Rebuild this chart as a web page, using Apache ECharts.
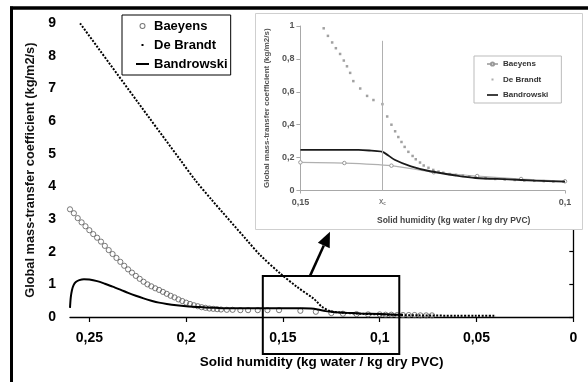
<!DOCTYPE html>
<html><head><meta charset="utf-8">
<script src="https://cdn.jsdelivr.net/npm/echarts@6/dist/echarts.min.js"></script>
<style>
html,body{margin:0;padding:0;background:#fff;}
#main{position:absolute;left:0;top:0;width:588px;height:382px;}
#inset{position:absolute;left:255px;top:13px;width:328px;height:217px;}
</style></head><body>
<div id="main"></div><div id="inset"></div>
<script>
const FONT = '"Liberation Sans", Arial, sans-serif';

// ---- main chart ----
const MAIN_X_TICKS = [0, 0.05, 0.1, 0.15, 0.2, 0.25];
const MAIN_X_MAX = 0.26;
const MAIN_Y_MAX = 9;
const SERIES_NAMES = ['Baeyens', 'De Brandt', 'Bandrowski'];

const BAEYENS = [
  [0.260,3.30],[0.258,3.18],[0.256,3.03],[0.254,2.90],[0.252,2.78],[0.250,2.66],[0.248,2.54],
  [0.246,2.43],[0.244,2.31],[0.242,2.18],[0.240,2.05],[0.238,1.93],[0.236,1.81],[0.234,1.69],
  [0.232,1.57],[0.230,1.46],[0.228,1.36],[0.226,1.26],[0.224,1.17],[0.222,1.08],[0.220,1.00],
  [0.218,0.94],[0.216,0.88],[0.214,0.83],[0.212,0.77],[0.210,0.71],[0.208,0.65],[0.206,0.60],
  [0.204,0.54],[0.202,0.49],[0.200,0.44],[0.198,0.40],[0.196,0.36],[0.194,0.33],[0.192,0.30],
  [0.190,0.28],[0.188,0.26],[0.186,0.25],[0.184,0.24],[0.182,0.23],[0.179,0.22],[0.176,0.22],
  [0.172,0.21],[0.168,0.21],[0.163,0.21],[0.158,0.21],[0.152,0.21],[0.141,0.19],[0.133,0.16],
  [0.125,0.12],[0.119,0.10],[0.112,0.09],[0.106,0.08],[0.100,0.08],[0.097,0.07],[0.094,0.07],
  [0.091,0.06],[0.088,0.06],[0.085,0.06],[0.082,0.06],[0.079,0.05],[0.076,0.05],[0.073,0.05]
];
const DE_BRANDT = [
  [0.2548,9.00],[0.2195,6.14],[0.2031,4.82],[0.1954,4.20],[0.1868,3.59],[0.1687,2.36],
  [0.1618,1.90],[0.1515,1.34],[0.1429,0.93],[0.1343,0.57],[0.1325,0.47],[0.1300,0.32],
  [0.1257,0.18],[0.1205,0.14],[0.1100,0.10],[0.1000,0.08],[0.0900,0.06],[0.0800,0.05],
  [0.0600,0.04],[0.0500,0.04],[0.0400,0.04]
];
const BANDROWSKI = [
  [0.2600,0.28],[0.2596,0.60],[0.2590,0.82],[0.2582,0.97],[0.2570,1.07],[0.2552,1.13],
  [0.2528,1.16],[0.2500,1.15],[0.2460,1.10],[0.2420,1.02],[0.2380,0.93],[0.2340,0.84],
  [0.2300,0.74],[0.2260,0.65],[0.2220,0.57],[0.2180,0.50],[0.2140,0.44],[0.2100,0.40],
  [0.2050,0.36],[0.2000,0.33],[0.1950,0.31],[0.1900,0.29],[0.1850,0.28],[0.1800,0.27],
  [0.1600,0.27],[0.1400,0.27],[0.1355,0.26],[0.1320,0.23],[0.1280,0.18],[0.1240,0.15],
  [0.1180,0.13],[0.1100,0.11],[0.1000,0.09],[0.0900,0.07],[0.0880,0.07]
];
// zoom box and arrow, in data units of the main chart
const ZOOM_BOX_X = [0.1604, 0.0899];
const ZOOM_BOX_Y = [1.26, -1.13];
const ARROW_FROM = [0.1360, 1.26];
const ARROW_TO = [0.1257, 2.61];

// ---- inset chart ----
const INSET_XC = 0.1345;
const INSET_XC_TOP = 0.91;
const INSET_X_LABELS = [0.15, INSET_XC, 0.1];
const INSET_X_TICKS = [0.15, 0.1];
const INSET_BAEYENS = [
  [0.1500,0.171],[0.1417,0.167],[0.1328,0.151],[0.1248,0.111],[0.1166,0.088],[0.1083,0.070],[0.1000,0.056]
];
const INSET_DE_BRANDT = [
  [0.1456,0.986],[0.1448,0.940],[0.1440,0.900],[0.1433,0.865],[0.1425,0.830],[0.1418,0.790],
  [0.1412,0.755],[0.1406,0.715],[0.1400,0.665],[0.1387,0.620],[0.1374,0.575],[0.1362,0.550],
  [0.1345,0.525],[0.1336,0.450],[0.1328,0.400],[0.1321,0.360],[0.1315,0.325],[0.1309,0.295],
  [0.1303,0.265],[0.1296,0.235],[0.1288,0.210],[0.1282,0.190],[0.1274,0.170],[0.1267,0.152],
  [0.1258,0.138],[0.1249,0.125],[0.1239,0.115],[0.1230,0.108],[0.1218,0.100],[0.1206,0.095],
  [0.1193,0.090],[0.1181,0.085],[0.1169,0.080],[0.1150,0.075],[0.1132,0.070],[0.1114,0.067],
  [0.1095,0.064],[0.1077,0.061],[0.1058,0.059],[0.1040,0.057],[0.1022,0.055],[0.1003,0.054]
];
const INSET_BANDROWSKI = [
  [0.1500,0.247],[0.1390,0.247],[0.1366,0.242],[0.1345,0.235],[0.1322,0.187],[0.1291,0.147],
  [0.1255,0.117],[0.1206,0.091],[0.1169,0.076],[0.1107,0.068],[0.1058,0.060],[0.1000,0.054]
];

const fmt = v => String(+(+v).toFixed(4)).replace('.', ',');
const DOT_ICON = 'path://M0,0L0.01,0L0.01,0.01Z M5.5,2L7.5,2L7.5,4L5.5,4Z M13,6L12.99,6L12.99,5.99Z';
const RING_ICON = 'path://M3,0A3,3 0 1,1 3,6A3,3 0 1,1 3,0Z M3,1A2,2 0 1,0 3,5A2,2 0 1,0 3,1Z';

const main = echarts.init(document.getElementById('main'), null, {renderer:'canvas'});
main.setOption({
  animation:false,
  backgroundColor:'#fff',
  textStyle:{fontFamily:FONT},
  grid:{left:70, right:14.7, top:23.3, bottom:65},
  xAxis:{
    type:'value', min:0, max:MAIN_X_MAX, interval:0.05, inverse:true,
    axisLine:{onZero:true, lineStyle:{color:'#000', width:1.3}},
    axisTick:{show:true, length:5, customValues:MAIN_X_TICKS, lineStyle:{color:'#000', width:1.2}},
    axisLabel:{customValues:MAIN_X_TICKS, formatter:fmt, fontSize:14, fontWeight:'bold', color:'#000', margin:14, fontFamily:FONT},
    splitLine:{show:false},
    name:'Solid humidity (kg water / kg dry PVC)', nameLocation:'middle', nameGap:38,
    nameTextStyle:{fontSize:13.5, fontWeight:'bold', color:'#000', fontFamily:FONT}
  },
  yAxis:{
    type:'value', min:0, max:MAIN_Y_MAX, interval:1,
    axisLine:{show:true, lineStyle:{color:'#000', width:1.3}},
    axisTick:{show:true, length:4, lineStyle:{color:'#000', width:1.2}},
    axisLabel:{formatter:fmt, fontSize:14, fontWeight:'bold', color:'#000', margin:14, fontFamily:FONT},
    splitLine:{show:false},
    name:'Global mass-transfer coefficient (kg/m2/s)', nameLocation:'middle', nameGap:30,
    nameTextStyle:{fontSize:12.8, fontWeight:'bold', color:'#111', fontFamily:FONT}
  },
  legend:{
    orient:'vertical', left:122, top:15, padding:[4.5,3,4.5,14], itemGap:6,
    itemWidth:13, itemHeight:6, borderColor:'#000', borderWidth:1, backgroundColor:'#fff',
    selectedMode:false,
    textStyle:{fontSize:13, fontWeight:'bold', color:'#000', fontFamily:FONT},
    data:[
      {name:SERIES_NAMES[0], icon:RING_ICON, itemStyle:{color:'#555', borderWidth:0}},
      {name:SERIES_NAMES[1], icon:DOT_ICON, itemStyle:{color:'#000', borderWidth:0}},
      {name:SERIES_NAMES[2], icon:'path://M0,0L13,0L13,2L0,2Z', itemStyle:{color:'#000', borderWidth:0}}
    ]
  },
  series:[
    {name:SERIES_NAMES[0], type:'scatter', data:BAEYENS, symbol:'circle', symbolSize:5.2,
     itemStyle:{color:'rgba(255,255,255,0)', borderColor:'#5a5a5a', borderWidth:1}, z:2},
    {name:SERIES_NAMES[1], type:'line', data:DE_BRANDT, symbol:'none', smooth:0.3,
     lineStyle:{color:'#000', width:2, type:[2,1.5]}, z:3},
    {name:SERIES_NAMES[2], type:'line', data:BANDROWSKI, symbol:'none', smooth:0.3,
     lineStyle:{color:'#000', width:2}, z:4}
  ]
});

const p1 = main.convertToPixel({gridIndex:0}, [ZOOM_BOX_X[0], ZOOM_BOX_Y[0]]);
const p2 = main.convertToPixel({gridIndex:0}, [ZOOM_BOX_X[1], ZOOM_BOX_Y[1]]);
const a0 = main.convertToPixel({gridIndex:0}, ARROW_FROM);
const a1 = main.convertToPixel({gridIndex:0}, ARROW_TO);
const dx = a1[0]-a0[0], dy = a1[1]-a0[1], L = Math.hypot(dx, dy), ux = dx/L, uy = dy/L;
const HL = 15, HW = 6.5;
const hb = [a1[0]-ux*HL, a1[1]-uy*HL];
const hl = [hb[0]-uy*HW, hb[1]+ux*HW], hr = [hb[0]+uy*HW, hb[1]-ux*HW];
main.setOption({graphic:[
  {type:'rect', z:100, shape:{x:Math.min(p1[0],p2[0]), y:Math.min(p1[1],p2[1]), width:Math.abs(p2[0]-p1[0]), height:Math.abs(p2[1]-p1[1])},
   style:{fill:'transparent', stroke:'#000', lineWidth:2}},
  {type:'line', z:100, shape:{x1:a0[0], y1:a0[1], x2:hb[0], y2:hb[1]}, style:{stroke:'#000', lineWidth:2.5}},
  {type:'polygon', z:100, shape:{points:[a1, hl, hr]}, style:{fill:'#000'}},
  {type:'line', z:100, shape:{x1:10, y1:8, x2:588, y2:8}, style:{stroke:'#000', lineWidth:3.5}},
  {type:'line', z:100, shape:{x1:11.5, y1:6.5, x2:11.5, y2:382}, style:{stroke:'#000', lineWidth:3}}
]});

const inset = echarts.init(document.getElementById('inset'), null, {renderer:'canvas'});
inset.setOption({
  animation:false,
  backgroundColor:'#fff',
  textStyle:{fontFamily:FONT},
  grid:{left:38.3, right:18, top:13, bottom:38.3},
  xAxis:{
    type:'value', min:0.1, max:0.15, interval:0.05, inverse:true,
    axisLine:{lineStyle:{color:'#a8a8a8', width:1}},
    axisTick:{show:true, length:3, customValues:INSET_X_TICKS, lineStyle:{color:'#a8a8a8'}},
    axisLabel:{customValues:INSET_X_LABELS, margin:8, fontSize:9, fontWeight:'bold', color:'#555', fontFamily:FONT,
      formatter:v => Math.abs(v-INSET_XC) < 1e-6 ? '{x|X}{c|c}' : fmt(v),
      rich:{x:{fontSize:6.5, color:'#777', fontFamily:FONT}, c:{fontSize:4.5, color:'#777', verticalAlign:'bottom', padding:[3,0,0,0], fontFamily:FONT}}},
    splitLine:{show:false},
    name:'Solid humidity (kg water / kg dry PVC)', nameLocation:'middle', nameGap:25.5,
    nameTextStyle:{fontSize:8.5, fontWeight:'bold', color:'#444', padding:[0,0,0,42], fontFamily:FONT}
  },
  yAxis:{
    type:'value', min:0, max:1, interval:0.2,
    axisLine:{show:true, lineStyle:{color:'#a8a8a8', width:1}},
    axisTick:{show:true, length:4, lineStyle:{color:'#a8a8a8'}},
    axisLabel:{formatter:fmt, margin:6, fontSize:9, fontWeight:'bold', color:'#555', fontFamily:FONT},
    splitLine:{show:false},
    name:'Global mass-transfer coefficient (kg/m2/s)', nameLocation:'middle', nameGap:24,
    nameTextStyle:{fontSize:8, fontWeight:'bold', color:'#555', fontFamily:FONT}
  },
  legend:{
    orient:'vertical', left:219, top:43, padding:[4,13,4,12], itemGap:7.5,
    itemWidth:11, itemHeight:4, borderColor:'#bbb', borderWidth:1, backgroundColor:'#fff',
    selectedMode:false,
    textStyle:{fontSize:8, fontWeight:'bold', color:'#333', fontFamily:FONT},
    data:[
      {name:SERIES_NAMES[0]},
      {name:SERIES_NAMES[1], icon:'path://M0,0L0.01,0L0.01,0.01Z M4.5,1L6.5,1L6.5,3L4.5,3Z M11,4L10.99,4L10.99,3.99Z', itemStyle:{color:'#999', borderWidth:0}},
      {name:SERIES_NAMES[2], icon:'path://M0,0L11,0L11,1.6L0,1.6Z', itemStyle:{color:'#111', borderWidth:0}}
    ]
  },
  series:[
    {name:SERIES_NAMES[0], type:'line', data:INSET_BAEYENS, symbol:'circle', symbolSize:3.5, smooth:0.2,
     lineStyle:{color:'#b0b0b0', width:1.2}, itemStyle:{color:'#fff', borderColor:'#999', borderWidth:1}, z:2},
    {name:SERIES_NAMES[1], type:'scatter', data:INSET_DE_BRANDT, symbol:'rect', symbolSize:2.5,
     itemStyle:{color:'#8a8a8a'}, z:3,
     markLine:{silent:true, symbol:['none','none'], label:{show:false}, animation:false,
       lineStyle:{color:'#b0b0b0', width:1, type:'solid'},
       data:[[{coord:[INSET_XC,0]},{coord:[INSET_XC,INSET_XC_TOP]}]]}},
    {name:SERIES_NAMES[2], type:'line', data:INSET_BANDROWSKI, symbol:'none', smooth:0.3,
     lineStyle:{color:'#1a1a1a', width:1.8}, z:4}
  ],
  graphic:[
    {type:'rect', z:100, shape:{x:0.5, y:0.5, width:327, height:216}, style:{fill:'transparent', stroke:'#cfcfcf', lineWidth:1}}
  ]
});
</script>
</body></html>
